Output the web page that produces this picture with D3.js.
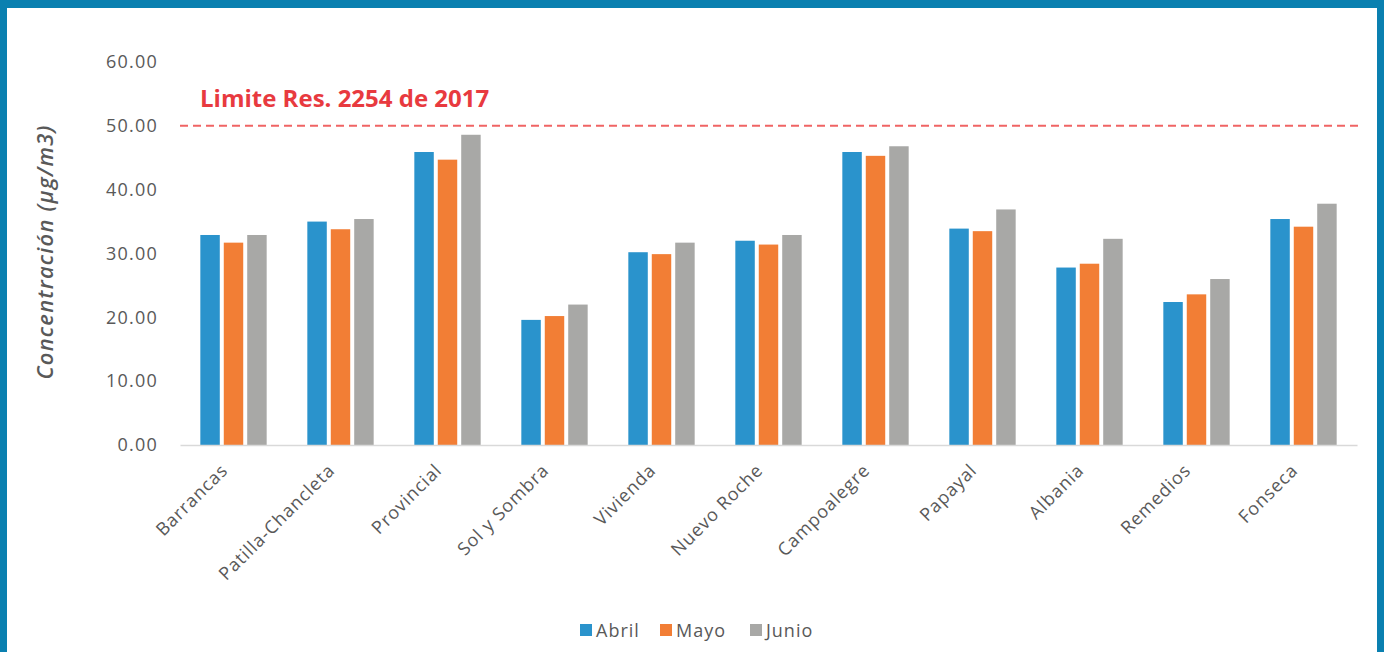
<!DOCTYPE html>
<html>
<head>
<meta charset="utf-8">
<script src="https://cdn.jsdelivr.net/npm/d3@7"></script>
<style>
  body { margin: 0; background: #0a80b0; }
  svg { display: block; }
  text { font-family: "Open Sans", sans-serif; }
</style>
</head>
<body>
<script>
// data
const categories = ["Barrancas", "Patilla-Chancleta", "Provincial", "Sol y Sombra", "Vivienda",
    "Nuevo Roche", "Campoalegre", "Papayal", "Albania", "Remedios", "Fonseca"];
const seriesNames = ["Abril", "Mayo", "Junio"];
const abril = [32.9, 35.0, 45.9, 19.6, 30.2, 32.0, 45.9, 33.9, 27.8, 22.4, 35.4];
const mayo  = [31.7, 33.8, 44.7, 20.2, 29.9, 31.4, 45.3, 33.5, 28.4, 23.6, 34.2];
const junio = [32.9, 35.4, 48.6, 22.0, 31.7, 32.9, 46.8, 36.9, 32.3, 26.0, 37.8];
const yTicks = [0, 10, 20, 30, 40, 50, 60];
const limite = 50;
const limiteLabel = "Limite Res. 2254 de 2017";
const colors = ["#2a93cc", "#f27e35", "#a8a8a6"];

const width = 1384, height = 652;
const plotLeft = 180, plotRight = 1357, plotTop = 62, plotBottom = 445;

const data = categories.map((c, i) => ({cat: c, vals: [abril[i], mayo[i], junio[i]]}));

const svg = d3.select("body").append("svg")
    .attr("width", width)
    .attr("height", height);

// white panel inside the blue frame
svg.append("rect")
    .attr("x", 7).attr("y", 8)
    .attr("width", 1370).attr("height", height)
    .attr("fill", "#ffffff");

//Scales
const xScale = d3.scaleBand()
    .domain(categories)
    .range([plotLeft, plotRight])
    .paddingInner(0.38)
    .paddingOuter(0.19);

const xSub = d3.scaleBand()
    .domain(seriesNames)
    .range([0, xScale.bandwidth()])
    .paddingInner(0.17);

const yScale = d3.scaleLinear()
    .domain([0, 60])
    .range([plotBottom, plotTop]);

//Y axis (labels only)
const leftAxis = d3.axisLeft(yScale)
    .tickValues(yTicks)
    .tickFormat(d3.format(".2f"))
    .tickSize(0)
    .tickPadding(22);

const gy = svg.append("g")
    .attr("transform", "translate(" + plotLeft + ",0)")
    .call(leftAxis);
gy.select(".domain").remove();
gy.selectAll("text")
    .attr("fill", "#595959")
    .style("font-size", "18px")
    .style("letter-spacing", "1.2px")
    .style("font-family", "Open Sans");

//Bars
const groups = svg.selectAll("g.grp")
    .data(data)
    .enter()
    .append("g")
    .attr("class", "grp")
    .attr("transform", d => "translate(" + xScale(d.cat) + ",0)");

groups.selectAll("rect")
    .data(d => d.vals.map((v, j) => ({s: seriesNames[j], v: v, j: j})))
    .enter()
    .append("rect")
    .attr("x", d => xSub(d.s))
    .attr("y", d => yScale(d.v))
    .attr("width", xSub.bandwidth())
    .attr("height", d => plotBottom - yScale(d.v))
    .attr("fill", d => colors[d.j]);

//X axis
const bottomAxis = d3.axisBottom(xScale).tickSize(0).tickPadding(0);
const gx = svg.append("g")
    .attr("transform", "translate(0," + plotBottom + ")")
    .call(bottomAxis);
gx.select(".domain").attr("stroke", "#d9d9d9").attr("stroke-width", 1.5);
gx.selectAll("text")
    .attr("fill", "#595959")
    .style("font-size", "18px")
    .style("letter-spacing", "0.9px")
    .style("font-family", "Open Sans")
    .attr("text-anchor", "end")
    .attr("dy", "0.35em")
    .attr("transform", "translate(-9,22) rotate(-45)");

//Limit line
svg.append("line")
    .attr("x1", plotLeft)
    .attr("x2", 1361)
    .attr("y1", yScale(limite))
    .attr("y2", yScale(limite))
    .attr("stroke", "#f06464")
    .attr("stroke-width", 2)
    .attr("stroke-dasharray", "8,5");

svg.append("text")
    .attr("x", 200)
    .attr("y", yScale(limite) - 19)
    .attr("fill", "#e83a3f")
    .style("font-size", "24px")
    .style("font-weight", "700")
    .text(limiteLabel);

//Y title
svg.append("text")
    .attr("transform", "translate(53," + 252 + ") rotate(-90)")
    .attr("text-anchor", "middle")
    .attr("fill", "#595959")
    .style("font-size", "22px")
    .style("letter-spacing", "1.2px")
    .style("font-style", "italic")
    .style("font-weight", "600")
    .text("Concentración (µg/m3)");

//Legend
const legendX = [580, 660, 750];
const lg = svg.selectAll("g.leg")
    .data(seriesNames)
    .enter()
    .append("g")
    .attr("class", "leg")
    .attr("transform", (d, i) => "translate(" + legendX[i] + ",624)");
lg.append("rect")
    .attr("width", 12).attr("height", 12)
    .attr("fill", (d, i) => colors[i]);
lg.append("text")
    .attr("x", 16)
    .attr("y", 13)
    .attr("fill", "#595959")
    .style("font-size", "18px")
    .style("letter-spacing", "1px")
    .text(d => d);
</script>
</body>
</html>
